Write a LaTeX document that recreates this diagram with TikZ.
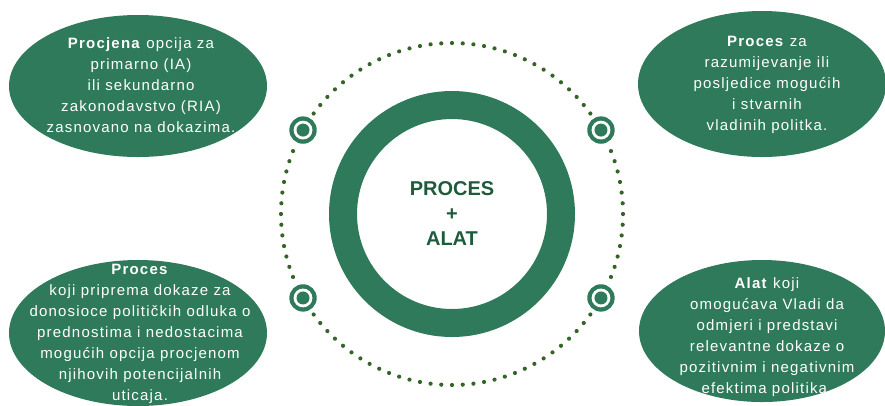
\documentclass[tikz,border=0pt]{standalone}
\usepackage{fontspec}
\usepackage{xcolor}
\usepackage{tikz}
\usetikzlibrary{calc,shapes.geometric,positioning}

\newfontfamily\bubblefont{Liberation Sans}[LetterSpace=8]
\newfontfamily\corefont{Liberation Sans}

\definecolor{leafgreen}{RGB}{46,122,90}
\definecolor{dotgreen}{RGB}{52,100,40}
\definecolor{inkgreen}{RGB}{30,90,60}

\begin{document}
\begin{tikzpicture}[x=0.75pt,y=-0.75pt,
  bubble/.style={ellipse,fill=leafgreen,draw=none,inner sep=0pt},
  bubbletext/.style={text=white,align=center,inner sep=0pt,
    font=\bubblefont\fontsize{11.25}{15.75}\selectfont},
  coretext/.style={text=inkgreen,align=center,inner sep=0pt,
    font=\corefont\bfseries\fontsize{15}{18.75}\selectfont}]

\useasboundingbox (0,0) rectangle (885,405);

\coordinate (ctr) at (452,214);

% dotted orbit
\foreach \a in {0,3.6,...,356.5}
  \fill[dotgreen] ($(ctr)+(\a:171)$) circle (2.1);

% thick ring
\draw[leafgreen,line width=21pt] (ctr) circle (109);
\node[coretext] (core) at (ctr) {PROCES\\+\\ALAT};

% targets on the orbit
\foreach \n/\a in {tr/-29.4,tl/209.4,bl/150.6,br/29.4}{
  \coordinate (t\n) at ($(ctr)+(\a:171)$);
  \fill[white] (t\n) circle (16);
  \fill[leafgreen] (t\n) circle (13.7);
  \fill[white] (t\n) circle (9.4);
  \fill[leafgreen] (t\n) circle (6.5);
}

% bubbles
\node[bubble,minimum width=193.5pt,minimum height=106.5pt] (pia) at (138,86) {};
\node[bubbletext] (pia-t) at (141,85)
  {\textbf{Procjena} opcija za\\primarno (IA)\\ili sekundarno\\zakonodavstvo (RIA)\\zasnovano na dokazima.};

\node[bubble,minimum width=186pt,minimum height=109.5pt] (pro) at (762,84) {};
\node[bubbletext] (pro-t) at (767,85)
  {\textbf{Proces} za\\razumijevanje ili\\posljedice mogućih\\i stvarnih\\vladinih politka.};

\node[bubble,minimum width=193.5pt,minimum height=109.5pt] (dok) at (138,333) {};
\node[bubbletext] (dok-t) at (140,334)
  {\textbf{Proces}\\koji priprema dokaze za\\donosioce političkih odluka o\\prednostima i nedostacima\\mogućih opcija procjenom\\njihovih potencijalnih\\uticaja.};

\node[bubble,minimum width=184.5pt,minimum height=106.5pt] (alt) at (762,331) {};
\node[bubbletext] (alt-t) at (767,337)
  {\textbf{Alat} koji\\omogućava Vladi da\\odmjeri i predstavi\\relevantne dokaze o\\pozitivnim i negativnim\\efektima politika.};

\end{tikzpicture}
\end{document}
